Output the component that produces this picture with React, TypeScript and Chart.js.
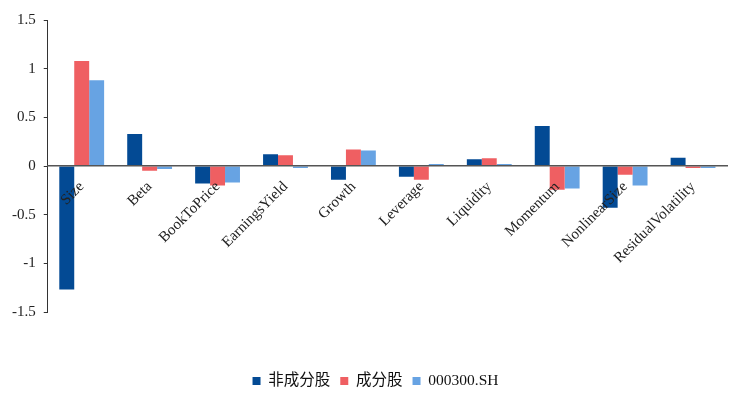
import React, { useEffect, useRef } from "react";
import { Chart, registerables } from "chart.js";

Chart.register(...registerables);

const categories = ["Size", "Beta", "BookToPrice", "EarningsYield", "Growth", "Leverage", "Liquidity", "Momentum", "NonlinearSize", "ResidualVolatility"];
const nonConstituent = [-1.27, 0.33, -0.18, 0.12, -0.14, -0.11, 0.07, 0.41, -0.43, 0.085];
const constituent = [1.08, -0.05, -0.20, 0.11, 0.17, -0.14, 0.08, -0.245, -0.09, -0.02];
const hs300 = [0.88, -0.03, -0.17, -0.02, 0.16, 0.02, 0.02, -0.23, -0.20, -0.02];
const seriesNames = ["非成分股", "成分股", "000300.SH"];
const yTicks = [1.5, 1, 0.5, 0, -0.5, -1, -1.5];

const FONT = "'Liberation Serif', 'Times New Roman', 'Noto Sans CJK SC', serif";

const legendShift = {
  id: "legendShift",
  beforeDraw(chart: any) {
    const lg = chart.legend;
    if (lg && !lg._shifted) {
      lg.left += 10;
      lg.right += 10;
      lg._shifted = true;
    }
  },
  afterLayout(chart: any) {
    if (chart.legend) chart.legend._shifted = false;
  },
};

export default function App() {
  const ref = useRef<HTMLCanvasElement>(null);
  useEffect(() => {
    document.body.style.margin = "0";
    const chart = new Chart(ref.current!, {
      type: "bar",
      data: {
        labels: categories,
        datasets: [
          { label: seriesNames[0], data: nonConstituent, backgroundColor: "#034a94" },
          { label: seriesNames[1], data: constituent, backgroundColor: "#ef5f62" },
          { label: seriesNames[2], data: hs300, backgroundColor: "#67a3e3" },
        ],
      },
      plugins: [legendShift],
      options: {
        animation: false,
        responsive: false,
        maintainAspectRatio: false,
        layout: { padding: { top: 20, right: 5, left: 4, bottom: -2.75 } },
        datasets: { bar: { barPercentage: 1, categoryPercentage: 0.66 } },
        plugins: {
          tooltip: { enabled: false },
          legend: {
            position: "bottom",
            title: { display: true, text: "", padding: { top: 36.85, bottom: 0 } },
            labels: {
              boxWidth: 8,
              boxHeight: 8,
              color: "#111",
              font: { family: FONT, size: 15.5 },
              padding: 10,
            },
          },
        },
        scales: {
          x: {
            position: { y: 0 } as any,
            grid: { display: false, drawTicks: false },
            border: { color: "#555", width: 1.5, z: 1 },
            ticks: {
              z: 1,
              minRotation: 45,
              maxRotation: 45,
              color: "#222",
              padding: 12,
              font: { family: FONT, size: 15 },
            },
          },
          y: {
            min: -1.5,
            max: 1.5,
            afterBuildTicks: (axis: any) => {
              axis.ticks = yTicks.map((v) => ({ value: v }));
            },
            grid: { drawOnChartArea: false, tickLength: 4, color: "#333" },
            border: { color: "#333", width: 1 },
            ticks: {
              color: "#222",
              padding: 8,
              font: { family: FONT, size: 15 },
              callback: (v: any) => String(v),
            },
          },
        },
      },
    });
    return () => chart.destroy();
  }, []);
  return (
    <div style={{ width: 732, height: 396 }}>
      <canvas ref={ref} width={732} height={396} style={{ width: 732, height: 396 }} />
    </div>
  );
}
